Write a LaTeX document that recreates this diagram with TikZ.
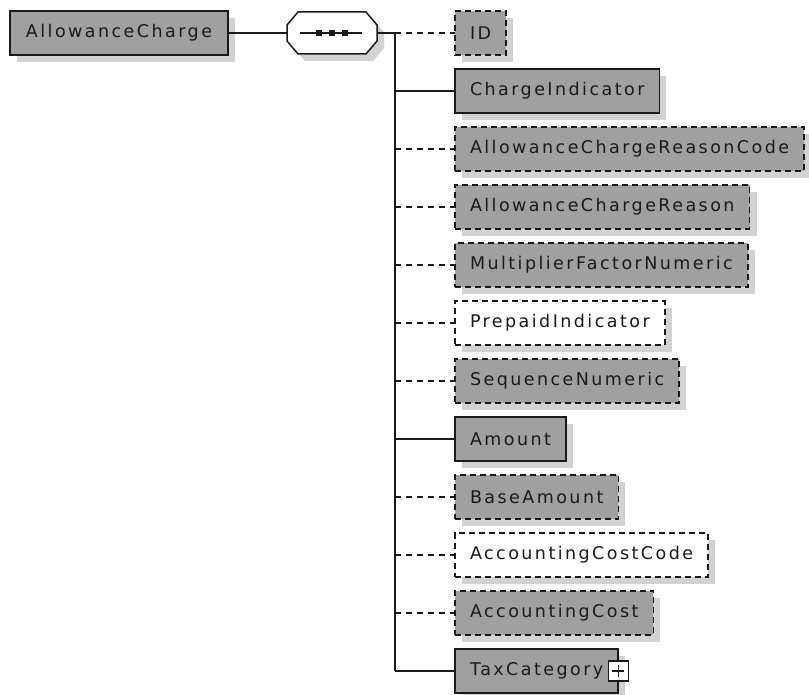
\documentclass[tikz,border=0pt]{standalone}
\usepackage{fontspec}
\setmainfont[LetterSpace=14]{DejaVu Sans}
\usetikzlibrary{positioning,calc,shadows}
\definecolor{ink}{HTML}{1A1A1A}
\definecolor{elemgray}{HTML}{A0A0A0}
\definecolor{shadegray}{HTML}{D2D2D2}

\begin{document}
\begin{tikzpicture}[x=1pt,y=-1pt,
    font=\fontsize{17.5}{20}\selectfont,
    elem/.style={draw=ink,line width=1.7pt,fill=elemgray,text=ink,inner xsep=15pt,outer sep=0pt,minimum height=44pt,
      drop shadow={shadow xshift=7pt,shadow yshift=-7pt,fill=shadegray,opacity=1}},
    optel/.style={elem,dash pattern=on 6pt off 4pt},
    optwhite/.style={optel,fill=white},
    conn/.style={line width=1.5pt,draw=ink},
    optconn/.style={conn,dash pattern=on 6pt off 5pt},
    plusbox/.style={draw=ink,fill=white,line width=1.2pt,minimum size=20pt,inner sep=0pt}]
  \useasboundingbox (0,0) rectangle (809,695);

  \node[elem,minimum width=218pt,anchor=west] (root) at (10,33) {AllowanceCharge};

  % sequence compositor
  \node[minimum width=90pt,minimum height=42pt,inner sep=0pt,outer sep=0pt,right=59pt of root] (seq) {};
  \fill[shadegray,transform canvas={xshift=7pt,yshift=-7pt}]
    ([xshift=11pt]seq.north west) -- ([xshift=-11pt]seq.north east) -- ([yshift=-13pt]seq.north east)
    -- ([yshift=13pt]seq.south east) -- ([xshift=-11pt]seq.south east) -- ([xshift=11pt]seq.south west)
    -- ([yshift=13pt]seq.south west) -- ([yshift=-13pt]seq.north west) -- cycle;
  \draw[conn,fill=white]
    ([xshift=11pt]seq.north west) -- ([xshift=-11pt]seq.north east) -- ([yshift=-13pt]seq.north east)
    -- ([yshift=13pt]seq.south east) -- ([xshift=-11pt]seq.south east) -- ([xshift=11pt]seq.south west)
    -- ([yshift=13pt]seq.south west) -- ([yshift=-13pt]seq.north west) -- cycle;
  \draw[conn] ([xshift=13pt]seq.west) -- ([xshift=-15pt]seq.east);
  \fill[ink] ([xshift=-13pt]seq.center) ++(-2.6,-2.6) rectangle ++(5.2,5.2);
  \fill[ink] (seq.center) ++(-2.6,-2.6) rectangle ++(5.2,5.2);
  \fill[ink] ([xshift=13pt]seq.center) ++(-2.6,-2.6) rectangle ++(5.2,5.2);
  \coordinate (spine) at ([xshift=18pt]seq.east);

  % children
  \node[optel,anchor=west] (id) at (455,33) {ID};
  \node[elem,below=14pt of id.south west,anchor=north west] (chargeind) {ChargeIndicator};
  \node[optel,below=14pt of chargeind.south west,anchor=north west] (reasoncode) {AllowanceChargeReasonCode};
  \node[optel,below=14pt of reasoncode.south west,anchor=north west] (reason) {AllowanceChargeReason};
  \node[optel,below=14pt of reason.south west,anchor=north west] (multiplier) {MultiplierFactorNumeric};
  \node[optwhite,below=14pt of multiplier.south west,anchor=north west] (prepaid) {PrepaidIndicator};
  \node[optel,below=14pt of prepaid.south west,anchor=north west] (seqnum) {SequenceNumeric};
  \node[elem,below=14pt of seqnum.south west,anchor=north west] (amount) {Amount};
  \node[optel,below=14pt of amount.south west,anchor=north west] (baseamount) {BaseAmount};
  \node[optwhite,below=14pt of baseamount.south west,anchor=north west] (costcode) {AccountingCostCode};
  \node[optel,below=14pt of costcode.south west,anchor=north west] (cost) {AccountingCost};
  \node[elem,below=14pt of cost.south west,anchor=north west] (tax) {TaxCategory\hspace{6pt}};
  \node[plusbox] (taxplus) at (tax.east) {};
  \draw[line width=1.3pt,draw=ink] ([xshift=-6pt]taxplus.center) -- ([xshift=6pt]taxplus.center)
    ([yshift=-6pt]taxplus.center) -- ([yshift=6pt]taxplus.center);

  % connectors
  \draw[conn] (root) -- (seq);
  \draw[conn] (seq) -- (spine) -- (spine |- tax.west);
  \draw[optconn] (spine) -- (id);
  \draw[conn] (spine |- chargeind) -- (chargeind);
  \draw[optconn] (spine |- reasoncode) -- (reasoncode);
  \draw[optconn] (spine |- reason) -- (reason);
  \draw[optconn] (spine |- multiplier) -- (multiplier);
  \draw[optconn] (spine |- prepaid) -- (prepaid);
  \draw[optconn] (spine |- seqnum) -- (seqnum);
  \draw[conn] (spine |- amount) -- (amount);
  \draw[optconn] (spine |- baseamount) -- (baseamount);
  \draw[optconn] (spine |- costcode) -- (costcode);
  \draw[optconn] (spine |- cost) -- (cost);
  \draw[conn] (spine |- tax) -- (tax);
\end{tikzpicture}
\end{document}
